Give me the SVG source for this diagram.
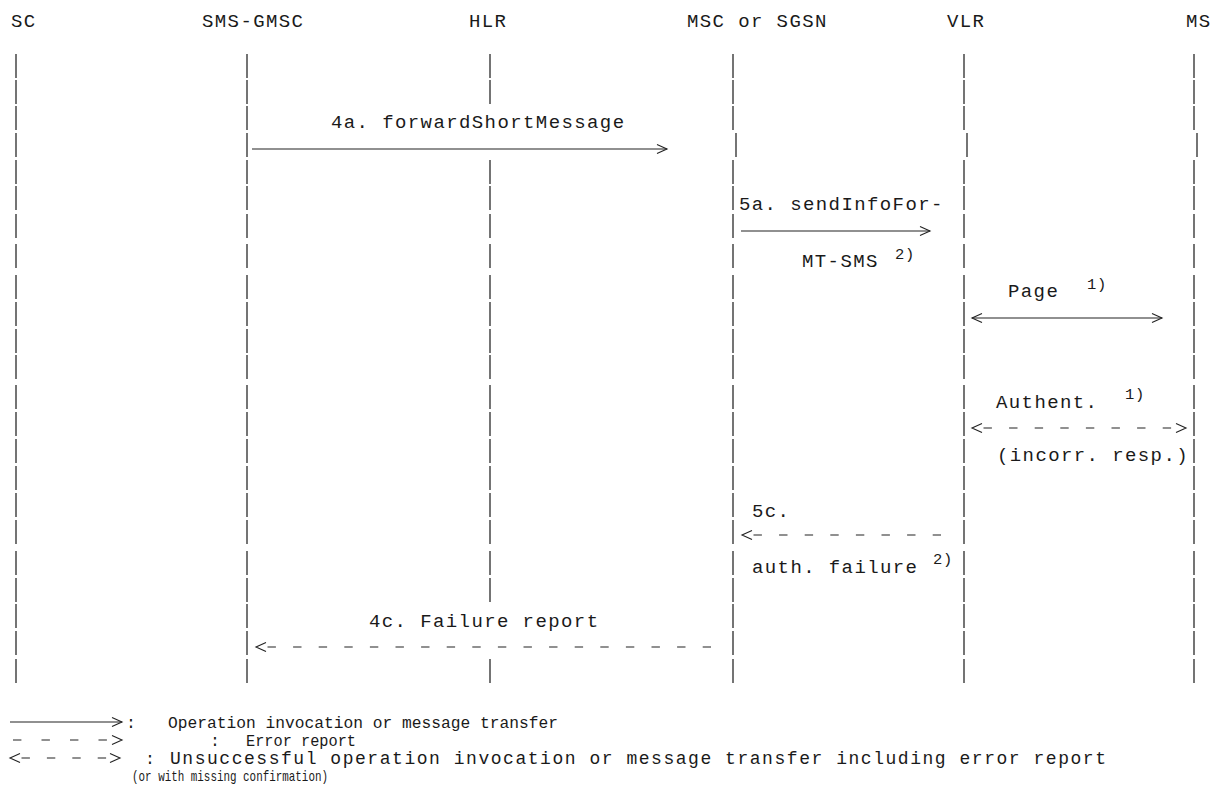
<svg xmlns="http://www.w3.org/2000/svg" width="1216" height="801" viewBox="0 0 1216 801">
<style>
text{font-family:"Liberation Mono","Courier New",monospace;fill:#1a1a1a}
.hd,.lb{font-size:19px;letter-spacing:1.4px}
.sup{font-size:15.5px;letter-spacing:0.8px}
.lg{font-size:16.5px}
.lg3{font-size:18px}
.lg4{font-size:15px}
.life{stroke:#3a3a3a;stroke-width:1.4;fill:none}
.msg{stroke:#222;stroke-width:1.1;fill:none}
.dash{stroke-dasharray:8.4 17.2;stroke-dashoffset:14.1}
</style>
<defs>
<path id="ll" d="M0,54V78M0,80V104M0,106V130M0,160V184M0,186V210M0,214V238M0,244V268M0,275V299M0,302V326M0,329V353M0,355V379M0,385V409M0,412V436M0,439V463M0,466V490M0,493V517M0,520V544M0,551V575M0,578V602M0,604V628M0,631V655M0,659V683"/>
<marker id="ah" viewBox="0 0 11 11" refX="10.5" refY="5.5" markerWidth="11" markerHeight="11" markerUnits="userSpaceOnUse" orient="auto-start-reverse" overflow="visible">
<path d="M0.5,1 L10.5,5.5 L0.5,10" fill="none" stroke="#222" stroke-width="1.1" stroke-dasharray="none"/>
</marker>
</defs>
<g id="node-SC">
<text class="hd" x="11" y="27">SC</text>
<use href="#ll" x="16" class="life"/>
<path class="life" d="M16,133V157"/>
</g>
<g id="node-SMS-GMSC">
<text class="hd" x="202" y="27">SMS-GMSC</text>
<use href="#ll" x="247" class="life"/>
<path class="life" d="M247,133V157"/>
</g>
<g id="node-HLR">
<text class="hd" x="469" y="27">HLR</text>
<path class="life" d="M490,54V78M490,80V104M490,160V184M490,186V210M490,214V238M490,244V268M490,275V299M490,302V326M490,329V353M490,355V379M490,385V409M490,412V436M490,439V463M490,466V490M490,493V517M490,520V544M490,551V575M490,578V602M490,659V683"/>
</g>
<g id="node-MSC">
<text class="hd" x="687" y="27">MSC or SGSN</text>
<use href="#ll" x="733" class="life"/>
<path class="life" d="M736,133V157"/>
</g>
<g id="node-VLR">
<text class="hd" x="947" y="27">VLR</text>
<use href="#ll" x="964" class="life"/>
<path class="life" d="M967,133V157"/>
</g>
<g id="node-MS">
<text class="hd" x="1186" y="27">MS</text>
<use href="#ll" x="1194" class="life"/>
<path class="life" d="M1197,133V157"/>
</g>
<g id="connectors">
<line class="msg" x1="252" y1="149" x2="667" y2="149" marker-end="url(#ah)"/>
<line class="msg" x1="741" y1="231" x2="930" y2="231" marker-end="url(#ah)"/>
<line class="msg" x1="972" y1="318" x2="1162" y2="318" marker-start="url(#ah)" marker-end="url(#ah)"/>
<line class="msg dash" x1="972" y1="428" x2="1186" y2="428" marker-start="url(#ah)" marker-end="url(#ah)"/>
<line class="msg dash" x1="742" y1="535" x2="941" y2="535" marker-start="url(#ah)"/>
<line class="msg dash" x1="256" y1="647" x2="711" y2="647" marker-start="url(#ah)"/>
</g>
<g id="labels">
<text class="lb" x="331" y="128">4a. forwardShortMessage</text>
<text class="lb" x="739" y="210">5a. sendInfoFor-</text>
<text class="lb" x="802" y="267">MT-SMS</text>
<text class="sup" x="895" y="259">2)</text>
<text class="lb" x="1008" y="297">Page</text>
<text class="sup" x="1087" y="289">1)</text>
<text class="lb" x="996" y="408">Authent.</text>
<text class="sup" x="1125" y="399">1)</text>
<text class="lb" x="997" y="461">(incorr. resp.)</text>
<text class="lb" x="752" y="517">5c.</text>
<text class="lb" x="752" y="573">auth. failure</text>
<text class="sup" x="933" y="564">2)</text>
<text class="lb" x="369" y="627">4c. Failure report</text>
</g>
<g id="legend">
<line class="msg" x1="10" y1="722" x2="122" y2="722" marker-end="url(#ah)"/>
<text class="lg" x="126" y="728">:</text>
<text class="lg" x="168" y="728" textLength="390" lengthAdjust="spacingAndGlyphs">Operation invocation or message transfer</text>
<line class="msg" x1="13" y1="740" x2="122" y2="740" stroke-dasharray="8.4 20.1" marker-end="url(#ah)"/>
<text class="lg" x="210" y="746">:</text>
<text class="lg" x="246" y="746" textLength="110" lengthAdjust="spacingAndGlyphs">Error report</text>
<line class="msg" x1="10" y1="758" x2="120" y2="758" stroke-dasharray="8.4 17" stroke-dashoffset="13.9" marker-start="url(#ah)" marker-end="url(#ah)"/>
<text class="lg" x="145" y="764">:</text>
<text class="lg3" x="170" y="764" textLength="936" lengthAdjust="spacing">Unsuccessful operation invocation or message transfer including error report</text>
<text class="lg4" x="132" y="781" textLength="196" lengthAdjust="spacingAndGlyphs">(or with missing confirmation)</text>
</g>
</svg>
